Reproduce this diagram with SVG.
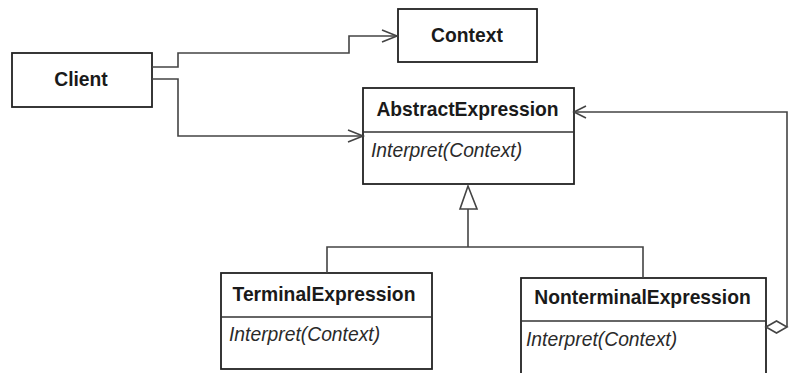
<svg xmlns="http://www.w3.org/2000/svg" width="792" height="373" viewBox="0 0 792 373">
<style>
.box{fill:#fff;stroke:#222;stroke-width:1.8}
.div{stroke:#333;stroke-width:1.5}
.t{font-family:"Liberation Sans",Arial,sans-serif;font-weight:bold;font-size:19.3px;fill:#1a1a1a;text-anchor:middle}
.op{font-family:"Liberation Sans",Arial,sans-serif;font-style:italic;font-size:19.3px;fill:#2a2a2a}
.ln{fill:none;stroke:#444;stroke-width:1.6}
</style>
<rect width="792" height="373" fill="#fff"/>
<g id="client">
<rect class="box" x="12" y="53" width="140" height="54"/>
<text class="t" x="81" y="86">Client</text>
</g>
<g id="context">
<rect class="box" x="398" y="9" width="139" height="53"/>
<text class="t" x="467" y="42">Context</text>
</g>
<g id="abstract">
<rect class="box" x="363" y="88" width="211" height="96"/>
<line class="div" x1="363" y1="132" x2="574" y2="132"/>
<text class="t" x="467.5" y="116">AbstractExpression</text>
<text class="op" x="371" y="157">Interpret(Context)</text>
</g>
<g id="terminal">
<rect class="box" x="221" y="273" width="211" height="96"/>
<line class="div" x1="221" y1="317" x2="432" y2="317"/>
<text class="t" x="324" y="301">TerminalExpression</text>
<text class="op" x="229" y="341">Interpret(Context)</text>
</g>
<g id="nonterminal">
<rect class="box" x="521" y="278" width="245" height="110"/>
<line class="div" x1="521" y1="321" x2="766" y2="321"/>
<text class="t" x="642.5" y="304">NonterminalExpression</text>
<text class="op" x="526" y="346">Interpret(Context)</text>
</g>
<g id="connectors">
<polyline class="ln" points="152,67 178,67 178,53 349,53 349,36 397,36"/>
<polyline class="ln" points="382,30 397,36 382,42"/>
<polyline class="ln" points="152,79 178,79 178,136 363,136"/>
<polyline class="ln" points="348,130 363,136 348,142"/>
<polyline class="ln" points="468,209 468,247"/>
<polyline class="ln" points="327,273 327,247 643,247 643,278"/>
<polygon points="468,186 460,209 477,209" fill="#fff" stroke="#444" stroke-width="1.6"/>
<polyline class="ln" points="787,327 787,112 574,112"/>
<polyline class="ln" points="586,106 574,112 586,118"/>
<polygon points="766,327 776.5,321 787,327 776.5,333" fill="#fff" stroke="#444" stroke-width="1.6"/>
</g>
</svg>
